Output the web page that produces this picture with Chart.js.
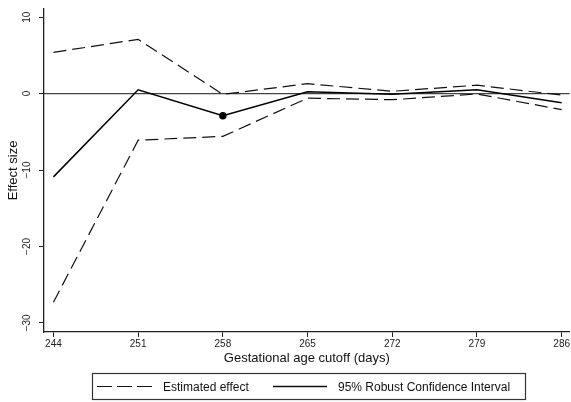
<!DOCTYPE html>
<html>
<head>
<meta charset="utf-8">
<script src="https://cdn.jsdelivr.net/npm/chart.js@4/dist/chart.umd.min.js"></script>
<style>
  html, body { margin: 0; padding: 0; background: #fff; }
  #wrap { width: 571px; height: 402px; position: relative; }
</style>
</head>
<body>
<div id="wrap"><canvas id="chart"></canvas></div>
<script>
// cutoffs (days) and estimates with robust CI bounds
const cutoffs = [244, 251, 258, 265, 272, 279, 286];
const estimate = [-10.9, 0.5, -2.9, 0.25, -0.1, 0.5, -1.2];
const ciUpper = [5.4, 7.1, -0.1, 1.3, 0.3, 1.1, -0.2];
const ciLower = [-27.3, -6.1, -5.6, -0.6, -0.8, -0.05, -2.1];
const markedAt = [258];
const yTicks = [-30, -20, -10, 0, 10];
const legendLabels = ["Estimated effect", "95% Robust Confidence Interval"];

const FONT = "'Liberation Sans', Arial, Helvetica, sans-serif";
const pts = arr => cutoffs.map((c, i) => ({ x: c, y: arr[i] }));

const dashed = { borderColor: "#111", borderWidth: 1.2, borderDash: [13, 6], pointRadius: 0, fill: false, tension: 0 };

// horizontal reference at zero
const zeroLine = {
  id: "zeroLine",
  beforeDatasetsDraw(chart) {
    const { ctx, chartArea, scales } = chart;
    const y = scales.y.getPixelForValue(0);
    ctx.save();
    ctx.strokeStyle = "#444";
    ctx.lineWidth = 1.3;
    ctx.beginPath();
    ctx.moveTo(chartArea.left, y);
    ctx.lineTo(chartArea.right, y);
    ctx.stroke();
    ctx.restore();
  }
};

// boxed legend under the axis title
const boxLegend = {
  id: "boxLegend",
  afterDraw(chart) {
    const ctx = chart.ctx;
    const x0 = 92, y0 = 373, w = 433, h = 26;
    ctx.save();
    ctx.strokeStyle = "#333";
    ctx.lineWidth = 1.2;
    ctx.strokeRect(x0 + 0.5, y0 + 0.5, w, h);
    const cy = y0 + h / 2 + 0.5;
    ctx.strokeStyle = "#111";
    ctx.lineWidth = 1.2;
    ctx.setLineDash([15, 5]);
    ctx.beginPath(); ctx.moveTo(97, cy); ctx.lineTo(153, cy); ctx.stroke();
    ctx.setLineDash([]);
    ctx.lineWidth = 1.5;
    ctx.beginPath(); ctx.moveTo(273, cy); ctx.lineTo(327, cy); ctx.stroke();
    ctx.fillStyle = "#111";
    ctx.font = "12px " + FONT;
    ctx.textBaseline = "middle";
    ctx.fillText(legendLabels[0], 163, cy + 1);
    ctx.fillText(legendLabels[1], 338, cy + 1);
    ctx.restore();
  }
};

new Chart(document.getElementById("chart"), {
  type: "line",
  data: {
    datasets: [
      Object.assign({ data: pts(ciUpper) }, dashed),
      Object.assign({ data: pts(ciLower) }, dashed),
      {
        data: pts(estimate),
        borderColor: "#000",
        backgroundColor: "#000",
        borderWidth: 1.5,
        pointRadius: cutoffs.map(c => markedAt.includes(c) ? 3 : 0),
        fill: false,
        tension: 0
      }
    ]
  },
  options: {
    responsive: true,
    maintainAspectRatio: false,
    animation: false,
    layout: { padding: { top: 5, right: 0, bottom: 36, left: 6 } },
    plugins: { legend: { display: false }, tooltip: { enabled: false } },
    scales: {
      x: {
        type: "linear",
        min: 243.22,
        max: 286.66,
        afterBuildTicks: s => { s.ticks = cutoffs.map(v => ({ value: v })); },
        afterFit: s => { s.height = 34; },
        border: { color: "#222", width: 1.3 },
        grid: { drawOnChartArea: false, tickLength: 5, color: "#222", tickWidth: 1 },
        ticks: { color: "#222", font: { family: FONT, size: 10 }, padding: 1, maxRotation: 0, autoSkip: false },
        title: { display: true, text: "Gestational age cutoff (days)", color: "#111", font: { family: FONT, size: 13 }, padding: { top: -3, bottom: 0 } }
      },
      y: {
        min: -31.2,
        max: 11.07,
        afterBuildTicks: s => { s.ticks = yTicks.map(v => ({ value: v })); },
        afterFit: s => { s.width = 38; },
        border: { color: "#222", width: 1.3 },
        grid: { drawOnChartArea: false, tickLength: 5, color: "#222", tickWidth: 1 },
        ticks: { color: "#222", font: { family: FONT, size: 10 }, minRotation: 90, maxRotation: 90, padding: 3, crossAlign: "center", callback: v => String(v).replace("-", "\u2212") },
        title: { display: true, text: "Effect size", color: "#111", font: { family: FONT, size: 13 }, padding: { top: 0, bottom: 4 } }
      }
    }
  },
  plugins: [zeroLine, boxLegend]
});
</script>
</body>
</html>
